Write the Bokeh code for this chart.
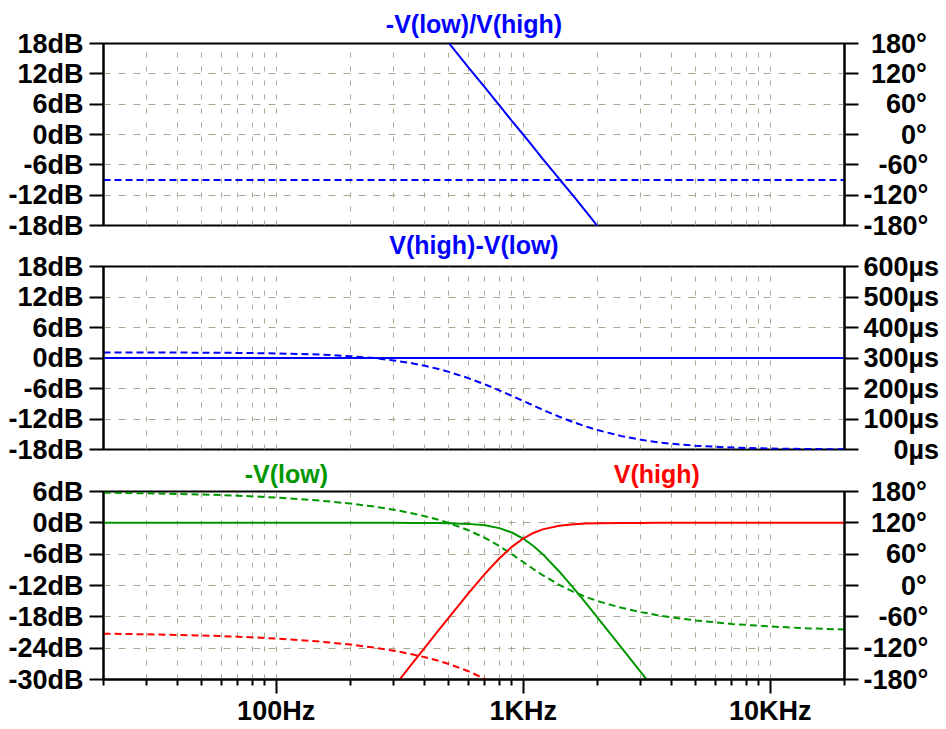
from bokeh.plotting import figure
from bokeh.models import (Range1d, LinearAxis, FixedTicker, PrintfTickFormatter, Title,
                          ColumnDataSource)
from bokeh.core.properties import value
from bokeh.layouts import column
from bokeh.embed import file_html
from bokeh.resources import INLINE

# ---------------- data ----------------
freq_hz = [20, 30, 50, 70, 100, 150, 200, 250, 300, 350, 400, 450, 500, 600, 700, 800, 900,
           1000, 1100, 1200, 1400, 1600, 1800, 2000, 2500, 3000, 3500, 4000, 5000, 7000,
           10000, 14000, 20000]

# pane 1: -V(low)/V(high)
ratio_mag_db = [101.9, 91.4, 78.1, 69.3, 60.0, 49.4, 41.9, 36.1, 31.4, 27.4, 23.9, 20.8, 18.1,
                13.3, 9.3, 5.8, 2.7, 0.0, -2.5, -4.8, -8.8, -12.2, -15.3, -18.1, -23.9, -28.6,
                -32.6, -36.1, -41.9, -50.7, -60.0, -68.8, -78.1]
ratio_phase_deg = [-90.0, -90.0, -90.0, -90.0, -90.0, -90.0, -90.0, -90.0, -90.0, -90.0, -90.0,
                   -90.0, -90.0, -90.0, -90.0, -90.0, -90.0, -90.0, -90.0, -90.0, -90.0, -90.0,
                   -90.0, -90.0, -90.0, -90.0, -90.0, -90.0, -90.0, -90.0, -90.0, -90.0, -90.0]

# pane 2: V(high)-V(low)
diff_mag_db = [0.0, 0.0, 0.0, 0.0, 0.0, 0.0, 0.0, 0.0, 0.0, 0.0, 0.0, 0.0, 0.0, 0.0, 0.0, 0.0,
               0.0, 0.0, 0.0, 0.0, 0.0, 0.0, 0.0, 0.0, 0.0, 0.0, 0.0, 0.0, 0.0, 0.0, 0.0, 0.0, 0.0]
diff_delay_us = [318.2, 318.0, 317.5, 316.7, 315.1, 311.3, 306.1, 299.6, 292.0, 283.6, 274.4,
                 264.7, 254.6, 234.0, 213.6, 194.1, 175.9, 159.2, 144.0, 130.5, 107.5, 89.4,
                 75.1, 63.7, 43.9, 31.8, 24.0, 18.7, 12.2, 6.4, 3.2, 1.6, 0.8]

# pane 3: -V(low) and V(high)
low_mag_db = [0.0, 0.0, 0.0, 0.0, 0.0, 0.0, 0.0, 0.0, 0.0, -0.01, -0.02, -0.04, -0.07, -0.2,
              -0.48, -1.01, -1.85, -3.01, -4.43, -6.0, -9.31, -12.5, -15.44, -18.13, -23.89,
              -28.63, -32.65, -36.12, -41.94, -50.71, -60.0, -68.77, -78.06]
low_phase_deg = [177.7, 176.6, 174.3, 172.0, 168.5, 162.7, 156.9, 151.0, 145.0, 139.0, 132.7,
                 126.3, 119.7, 105.9, 91.1, 75.6, 59.9, 45.0, 31.5, 19.7, 1.1, -12.3, -22.2,
                 -29.7, -42.7, -51.0, -56.8, -61.0, -66.9, -73.6, -78.5, -81.8, -84.3]
high_mag_db = [-101.9, -91.4, -78.1, -69.3, -60.0, -49.4, -41.9, -36.1, -31.4, -27.36, -23.89,
               -20.84, -18.13, -13.51, -9.78, -6.83, -4.6, -3.01, -1.94, -1.25, -0.54, -0.25,
               -0.12, -0.07, -0.02, -0.01, 0.0, 0.0, 0.0, 0.0, 0.0, 0.0, 0.0]
high_phase_deg = [-92.3, -93.4, -95.7, -98.0, -101.5, -107.3, -113.1, -119.0, -125.0, -131.0,
                  -137.3, -143.7, -150.3, -164.1, -178.9, -194.4, -210.1, -225.0, -238.5,
                  -250.3, -268.9, -282.3, -292.2, -299.7, -312.7, -321.0, -326.8, -331.0,
                  -336.9, -343.6, -348.5, -351.8, -354.3]

# ticks and tick labels (NBSP padding right-aligns the right-hand labels)
NB = "\u00a0"
x_major_ticks = [100, 1000, 10000]
x_major_labels = ["100Hz", "1KHz", "10KHz"]
x_minor_ticks = [20, 30, 40, 50, 60, 70, 80, 90, 200, 300, 400, 500, 600, 700, 800, 900,
                 2000, 3000, 4000, 5000, 6000, 7000, 8000, 9000, 20000]
x_grid_ticks = [30, 40, 50, 60, 70, 80, 90, 100, 200, 300, 400, 500, 600, 700, 800, 900,
                1000, 2000, 3000, 4000, 5000, 6000, 7000, 8000, 9000, 10000]
db_ticks_1 = [-18, -12, -6, 0, 6, 12, 18]
db_ticks_3 = [-30, -24, -18, -12, -6, 0, 6]
deg_ticks = [-180, -120, -60, 0, 60, 120, 180]
deg_labels = ["-180°", "-120°", NB * 2 + "-60°", NB * 5 + "0°", NB * 3 + "60°",
              NB + "120°", NB + "180°"]
us_ticks = [0, 100, 200, 300, 400, 500, 600]
us_labels = [NB * 4 + "0µs", "100µs", "200µs", "300µs", "400µs", "500µs", "600µs"]

titles_1 = ["-V(low)/V(high)"]
titles_2 = ["V(high)-V(low)"]
titles_3 = ["-V(low)", "V(high)"]
titles_3_freq = [110, 3475]

# ---------------- styling ----------------
FONT = "Liberation Sans"
BLUE = "#0000ff"
GREEN = "#009600"
RED = "#ff0000"
GRID = "#a8a890"
DASH = "7 4"
W = 942
RB = W - 845


def style_axis(ax, standoff):
    ax.axis_line_color = "black"
    ax.axis_line_width = 2
    ax.major_tick_line_color = "black"
    ax.major_tick_line_width = 2
    ax.major_tick_out = 14
    ax.major_tick_in = 0
    ax.minor_tick_line_color = None
    ax.major_label_text_font = FONT
    ax.major_label_text_font_style = "bold"
    ax.major_label_text_font_size = "27px"
    ax.major_label_text_color = "black"
    ax.major_label_standoff = standoff


def pane(height, top, bottom, yrange, yticks, yfmt, rrange, rticks, rlabels, margin,
         transparent):
    p = figure(width=W, height=height, x_axis_type="log", x_range=Range1d(20, 20000),
               y_range=Range1d(*yrange), output_backend="svg", toolbar_location=None, tools="",
               min_border_left=103, min_border_right=RB, min_border_top=top,
               min_border_bottom=bottom, background_fill_color="white",
               border_fill_color="white", border_fill_alpha=0.0 if transparent else 1.0,
               outline_line_color="black", outline_line_width=2, margin=margin)
    p.extra_y_ranges = {"right": Range1d(*rrange)}
    ly = p.yaxis[0]
    ly.ticker = FixedTicker(ticks=yticks)
    ly.formatter = PrintfTickFormatter(format=yfmt)
    style_axis(ly, 6)
    ry = LinearAxis(y_range_name="right", ticker=FixedTicker(ticks=rticks))
    ry.major_label_overrides = dict(zip(rticks, rlabels))
    style_axis(ry, 5)
    p.add_layout(ry, "right")
    p.ygrid.ticker = FixedTicker(ticks=yticks[1:-1])
    p.ygrid.grid_line_color = GRID
    p.ygrid.grid_line_dash = "7 8"
    p.ygrid.grid_line_width = 1
    p.xgrid.ticker = FixedTicker(ticks=x_grid_ticks)
    p.xgrid.grid_line_color = GRID
    p.xgrid.grid_line_dash = "5 9"
    p.xgrid.grid_line_width = 1
    return p


def top_title(p, text, color, standoff):
    p.add_layout(Title(text=text, align="center", text_font=FONT, text_font_style="bold",
                       text_font_size="25px", text_color=color, standoff=standoff), "above")


# pane 1  (page y 0..241, frame 43..225)
p1 = pane(241, 43, 16, (-18, 18), db_ticks_1, "%ddB", (-180, 180), deg_ticks, deg_labels,
          None, False)
p1.xaxis.visible = False
p1.line(freq_hz, ratio_mag_db, color=BLUE, line_width=2)
p1.line(freq_hz, ratio_phase_deg, y_range_name="right", color=BLUE, line_width=2,
        line_dash=DASH)
top_title(p1, titles_1[0], BLUE, 12)

# pane 2  (page y 220..465, frame 266..449)
p2 = pane(245, 46, 16, (-18, 18), db_ticks_1, "%ddB", (0, 600), us_ticks, us_labels,
          (-21, 0, 0, 0), True)
p2.xaxis.visible = False
p2.line(freq_hz, diff_mag_db, color=BLUE, line_width=2)
p2.line(freq_hz, diff_delay_us, y_range_name="right", color=BLUE, line_width=2,
        line_dash=DASH)
top_title(p2, titles_2[0], BLUE, 15)

# strip holding the two coloured titles of pane 3  (page y 456..490)
strip = figure(width=W, height=34, x_axis_type="log", x_range=Range1d(20, 20000),
               y_range=Range1d(0, 1), output_backend="svg", toolbar_location=None, tools="",
               min_border_left=103, min_border_right=RB, min_border_top=0,
               min_border_bottom=0, x_axis_location=None, y_axis_location=None,
               outline_line_color=None, background_fill_alpha=0.0, border_fill_alpha=0.0,
               margin=(-9, 0, 0, 0))
strip.grid.visible = False
tsrc = ColumnDataSource(dict(x=titles_3_freq, y=[0.5, 0.5], text=titles_3,
                             color=[GREEN, RED]))
strip.text(x="x", y="y", text="text", text_color="color", source=tsrc,
           text_font=value(FONT), text_font_style="bold", text_font_size="25px",
           text_align="center", text_baseline="middle")

# pane 3  (page y 450..728, frame 491..681)
p3 = pane(278, 41, 47, (-30, 6), db_ticks_3, "%ddB", (-180, 180), deg_ticks, deg_labels,
          (-40, 0, -8, 0), True)
xa = p3.xaxis[0]
xa.ticker = FixedTicker(ticks=x_major_ticks, minor_ticks=x_minor_ticks)
xa.major_label_overrides = dict(zip(x_major_ticks, x_major_labels))
xa.axis_line_color = "black"
xa.axis_line_width = 2
xa.major_tick_line_color = "black"
xa.major_tick_line_width = 2
xa.major_tick_out = 14
xa.major_tick_in = 0
xa.minor_tick_line_color = "black"
xa.minor_tick_line_width = 2
xa.minor_tick_out = 6
xa.minor_tick_in = 0
xa.major_label_text_font = FONT
xa.major_label_text_font_style = "bold"
xa.major_label_text_font_size = "27px"
xa.major_label_text_color = "black"
xa.major_label_standoff = 2
p3.line(freq_hz, low_mag_db, color=GREEN, line_width=2)
p3.line(freq_hz, low_phase_deg, y_range_name="right", color=GREEN, line_width=2,
        line_dash=DASH)
p3.line(freq_hz, high_mag_db, color=RED, line_width=2)
p3.line(freq_hz, high_phase_deg, y_range_name="right", color=RED, line_width=2,
        line_dash=DASH)

layout = column(p1, p2, strip, p3, spacing=0)
open("out.html", "w").write(file_html(layout, INLINE))
